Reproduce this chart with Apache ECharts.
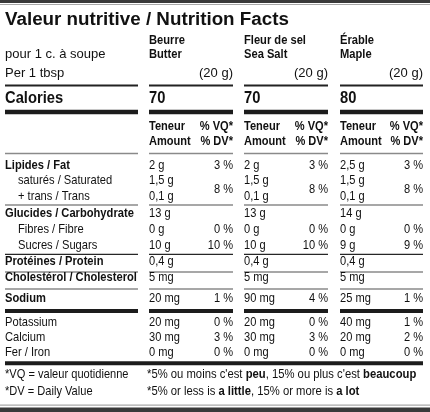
<!DOCTYPE html>
<html>
<head>
<meta charset="utf-8">
<script src="https://cdn.jsdelivr.net/npm/echarts@6/dist/echarts.min.js"></script>
<style>
html,body{margin:0;padding:0;background:#fff;}
#chart{width:430px;height:412px;}
</style>
</head>
<body>
<div id="chart"></div>
<script>
// ---------- DATA ----------
const title = 'Valeur nutritive / Nutrition Facts';
const servingFr = 'pour 1 c. à soupe';
const servingEn = 'Per 1 tbsp';
const productFr = ['Beurre', 'Fleur de sel', 'Érable'];
const productEn = ['Butter', 'Sea Salt', 'Maple'];
const servingSize = ['(20 g)', '(20 g)', '(20 g)'];
const calories = ['70', '70', '80'];
const headAmount = ['Teneur', 'Amount'];
const headDV = ['% VQ*', '% DV*'];
const nutrients = ['Lipides / Fat', 'saturés / Saturated', '+ trans / Trans',
  'Glucides / Carbohydrate', 'Fibres / Fibre', 'Sucres / Sugars',
  'Protéines / Protein', 'Cholestérol / Cholesterol', 'Sodium',
  'Potassium', 'Calcium', 'Fer / Iron'];
const butterAmount = ['2 g', '1,5 g', '0,1 g', '13 g', '0 g', '10 g', '0,4 g', '5 mg', '20 mg', '20 mg', '30 mg', '0 mg'];
const butterDV     = ['3 %', '8 %', '', '', '0 %', '10 %', '', '', '1 %', '0 %', '3 %', '0 %'];
const seaSaltAmount = ['2 g', '1,5 g', '0,1 g', '13 g', '0 g', '10 g', '0,4 g', '5 mg', '90 mg', '20 mg', '30 mg', '0 mg'];
const seaSaltDV     = ['3 %', '8 %', '', '', '0 %', '10 %', '', '', '4 %', '0 %', '3 %', '0 %'];
const mapleAmount = ['2,5 g', '1,5 g', '0,1 g', '14 g', '0 g', '9 g', '0,4 g', '5 mg', '25 mg', '40 mg', '20 mg', '0 mg'];
const mapleDV     = ['3 %', '8 %', '', '', '0 %', '9 %', '', '', '1 %', '1 %', '2 %', '0 %'];
const footFr = ['*VQ = valeur quotidienne', "*5% ou moins c'est {b|peu}, 15% ou plus c'est {b|beaucoup}"];
const footEn = ['*DV = Daily Value', '*5% or less is {b|a little}, 15% or more is {b|a lot}'];

// ---------- LAYOUT ----------
const amounts = [butterAmount, seaSaltAmount, mapleAmount];
const dvs = [butterDV, seaSaltDV, mapleDV];
const colL = [149, 244, 340];
const colR = [233, 328, 423];
const labL = 5, labR = 138;
const rowY = [165.5, 180.8, 196.2, 213.8, 229.5, 245.2, 261.5, 277.5, 298.2, 322.2, 337.2, 352.2];
const boldRows = [0, 3, 6, 7, 8];
const indentRows = [1, 2, 4, 5];
const FF = '"Liberation Sans", Arial, Helvetica, sans-serif';
const INK = '#111111';

const els = [];
function txt(x, y, text, o) {
  o = o || {};
  const el = {
    type: 'text', x: x, y: y, scaleX: o.sx || 1, scaleY: 1, silent: true,
    style: {
      text: text, x: 0, y: 0,
      fill: o.fill || INK,
      fontFamily: FF,
      fontSize: o.size || 12.6,
      fontWeight: o.bold ? 'bold' : 'normal',
      align: o.align || 'left',
      verticalAlign: 'middle'
    }
  };
  if (o.rich) el.style.rich = o.rich;
  els.push(el);
}
function rect(x, y, w, h, fill) {
  els.push({ type: 'rect', silent: true, shape: { x: x, y: y, width: w, height: h }, style: { fill: fill } });
}
function rule(yc, th, color, full) {
  if (full) { rect(labL, yc - th / 2, colR[2] - labL, th, color); return; }
  rect(labL, yc - th / 2, labR - labL, th, color);
  for (let c = 0; c < 3; c++) rect(colL[c], yc - th / 2, colR[c] - colL[c], th, color);
}

// frame
rect(0, 0, 430, 3, '#3a3a3a');
rect(0, 4, 430, 1, '#a8a8a8');
rect(0, 404.5, 430, 1.2, '#a8a8a8');
rect(0, 407.5, 430, 4.5, '#3a3a3a');

// title
txt(5, 20, title, { size: 18.8, bold: true, sx: 1 });
// serving
txt(5, 54.7, servingFr, { size: 13 });
txt(5, 73.3, servingEn, { size: 13 });
for (let c = 0; c < 3; c++) {
  txt(colL[c], 40.5, productFr[c], { bold: true, sx: 0.885 });
  txt(colL[c], 54.7, productEn[c], { bold: true, sx: 0.885 });
  txt(colR[c], 73.3, servingSize[c], { size: 13, align: 'right' });
  txt(colL[c], 98.3, calories[c], { size: 16, bold: true, sx: 0.92 });
  txt(colL[c], 127, headAmount[0], { size: 12.3, bold: true, sx: 0.9 });
  txt(colL[c], 142, headAmount[1], { size: 12.3, bold: true, sx: 0.9 });
  txt(colR[c], 127, headDV[0], { size: 12.3, bold: true, sx: 0.9, align: 'right' });
  txt(colR[c], 142, headDV[1], { size: 12.3, bold: true, sx: 0.9, align: 'right' });
}
txt(5, 98.3, 'Calories', { size: 16, bold: true, sx: 0.92 });

// rules
rule(85.5, 2, '#222');
rule(112, 4.5, '#1c1c1c');
rule(153.5, 1.5, '#8a8a8a');
rule(205, 1.5, '#8a8a8a');
rule(254.3, 1.3, '#262626');
rule(272, 1.5, '#8a8a8a');
rule(289, 1.5, '#8a8a8a');
rule(311, 4, '#1c1c1c');
rule(363.3, 4, '#1c1c1c', true);

// nutrient rows
nutrients.forEach(function (name, i) {
  const bold = boldRows.indexOf(i) >= 0;
  const x = indentRows.indexOf(i) >= 0 ? 18 : 5;
  txt(x, rowY[i], name, { bold: bold, sx: 0.885 });
  for (let c = 0; c < 3; c++) {
    txt(colL[c], rowY[i], amounts[c][i], { sx: 0.88 });
    const dv = dvs[c][i];
    if (dv) {
      const y = i === 1 ? (rowY[1] + rowY[2]) / 2 + 0.7 : rowY[i];
      txt(colR[c], y, dv, { sx: 0.88, align: 'right' });
    }
  }
});

// footnotes
const richB = { b: { fontWeight: 'bold', fontFamily: FF, fontSize: 12.6, fill: INK } };
txt(5, 374.8, footFr[0], { sx: 0.88 });
txt(5, 391.5, footEn[0], { sx: 0.88 });
txt(147, 374.8, footFr[1], { sx: 0.895, rich: richB });
txt(147, 391.5, footEn[1], { sx: 0.895, rich: richB });

const chart = echarts.init(document.getElementById('chart'), null, { renderer: 'canvas' });
chart.setOption({ backgroundColor: '#ffffff', animation: false, graphic: { elements: els } });
</script>
</body>
</html>
